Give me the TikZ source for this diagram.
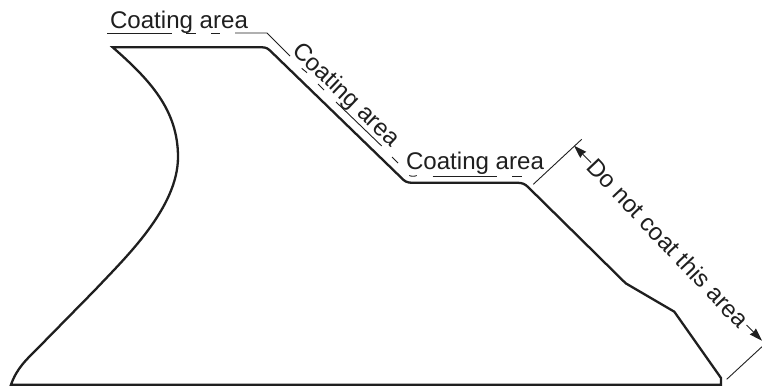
\documentclass[tikz,border=0pt]{standalone}
\usepackage{fontspec}
\setmainfont{Liberation Sans}
\usetikzlibrary{arrows.meta}
\tikzset{
  outline/.style={line width=2.3pt,draw=black!88,line join=miter},
  leader/.style={line width=0.9pt,draw=black!88},
  label/.style={font=\fontsize{24.1}{26}\selectfont,text=black!88,inner sep=0pt,anchor=center},
  dim/.style={leader,-{Stealth[length=13pt,width=8.5pt,inset=1pt]}}
}
\begin{document}
\begin{tikzpicture}[x=1pt,y=-1pt]
\useasboundingbox (0,0) rectangle (762,388);
% profile
\draw[outline] (112.7,47.3) -- (262,47.3) .. controls (266,47.3) and (268,48.5) .. (271,51.5)
  -- (401,177.5) .. controls (404,181) and (407,182.8) .. (412,182.8)
  -- (518,182.8) .. controls (522,182.8) and (525,184) .. (528,187)
  -- (625.7,283.3) -- (674.3,311.7) -- (721,378) -- (721,384.7) -- (11,384.7)
  .. controls (17,368) and (26,360) .. (38,348)
  -- (95,290)
  .. controls (125,258) and (178,208) .. (178,157)
  .. controls (178,110) and (150,80) .. (112.7,47.3) -- cycle;
% labels
\node[label] (t1) at (179,22.3) {Coating area};
\node[label,rotate=-43.5] (t2) at (345.5,95.5) {Coating area};
\node[label] (t3) at (475,163) {Coating area};
\node[label,rotate=-46.5] (t4) at (668,243) {Do not coat this area};
% leaders
\coordinate (e1) at (290,56);
\draw[leader] (107,33) -- (172,33);
\draw[leader] (186,33) -- (196,33);
\draw[leader] (211,33) -- (220,33);
\draw[leader] (235,33) -- (267,33) -- (e1);
\draw[leader] (301.7,68.3) -- (307,72.7);
\draw[leader] (318,84) -- (324,90);
\draw[leader] (336,102) -- (381.7,146);
\draw[leader] (392,157) -- (398,163);
\draw[leader] (409.3,175.5) .. controls (411,176.5) and (415,176.5) .. (416.7,175.5);
\draw[leader] (432.7,176) -- (497,176);
\draw[leader] (512.3,176) -- (521.7,176);
% extension lines
\coordinate (x1a) at (533.3,184.3);
\coordinate (x1b) at (581.7,139.3);
\coordinate (x2a) at (726.7,379.3);
\coordinate (x2b) at (762,346.7);
\draw[leader] (x1a) -- (x1b);
\draw[leader] (x2a) -- (x2b);
% dimension arrows
\coordinate (tipa) at (574,145.7);
\coordinate (tipb) at (762,340.7);
\coordinate (sa) at (591,162.5);
\coordinate (sb) at (746.5,325);
\draw[dim] (sa) -- (tipa);
\draw[dim] (sb) -- (tipb);
\end{tikzpicture}
\end{document}
